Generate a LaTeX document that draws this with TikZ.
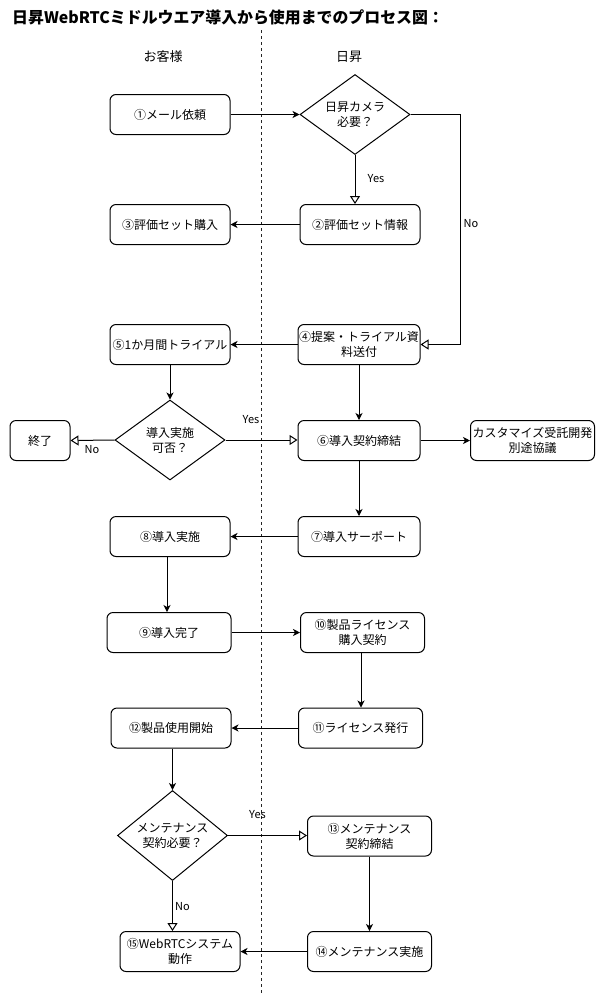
\documentclass[tikz,border=0pt]{standalone}
\usepackage{fontspec}
\setmainfont{Noto Sans CJK JP}
\usetikzlibrary{shapes.geometric,arrows.meta}
\begin{document}
\begin{tikzpicture}[x=1pt,y=-1pt,
  box/.style={draw, rounded corners=6pt, minimum height=40pt, inner sep=0pt, align=center, line width=1pt, font=\fontsize{12}{15}\selectfont},
  dec/.style={draw, diamond, inner sep=0pt, align=center, line width=1pt, font=\fontsize{12}{15}\selectfont},
  lbl/.style={font=\fontsize{11}{13}\selectfont, inner sep=0pt},
  lane/.style={font=\fontsize{13}{15}\selectfont, inner sep=0pt},
  flow/.style={line width=1pt, -{Stealth[length=7pt,width=7pt,inset=2pt]}},
  oflow/.style={line width=1pt, -{Triangle[open,length=8pt,width=10pt,fill=white]}},
]
\useasboundingbox (0,0) rectangle (596,994);
\fill[white] (0,0) rectangle (596,994);
% title
\node[anchor=west, inner sep=0pt, font=\fontsize{15.9}{18}\selectfont\bfseries] (title) at (12,17) {日昇WebRTCミドルウエア導入から使用までのプロセス図：};
% lane divider
\coordinate (dtop) at (261,30);
\coordinate (dbot) at (261,994);
\draw[black!85, line width=0.9pt, dash pattern=on 3pt off 3pt] (dtop) -- (dbot);
\node[lane] (lc) at (163,57) {お客様};
\node[lane] (ln) at (349,57) {日昇};
% nodes
\node[box, minimum width=120pt] (n1) at (170,114.5) {①メール依頼};
\node[dec, minimum width=110pt, minimum height=80pt, aspect=1.375] (d1) at (355,114.5) {日昇カメラ\\必要？};
\node[box, minimum width=120pt] (n2) at (360,224.5) {②評価セット情報};
\node[box, minimum width=120pt] (n3) at (170,224.5) {③評価セット購入};
\node[box, minimum width=122pt] (n4) at (359,344.5) {④提案・トライアル資\\料送付};
\node[box, minimum width=120pt] (n5) at (170,344.5) {⑤1か月間トライアル};
\node[dec, minimum width=110pt, minimum height=80pt, aspect=1.375] (d2) at (170,440) {導入実施\\可否？};
\node[box, minimum width=60pt] (end) at (40,440.5) {終了};
\node[box, minimum width=122pt] (n6) at (359,440.5) {⑥導入契約締結};
\node[box, minimum width=124pt] (cus) at (532.5,440.5) {カスタマイズ受託開発\\別途協議};
\node[box, minimum width=122pt] (n7) at (359,536.5) {⑦導入サーポート};
\node[box, minimum width=120pt] (n8) at (170,536.5) {⑧導入実施};
\node[box, minimum width=124pt] (n9) at (169,632.5) {⑨導入完了};
\node[box, minimum width=124pt] (n10) at (362.5,632.5) {⑩製品ライセンス\\購入契約};
\node[box, minimum width=124pt] (n11) at (360.5,728) {⑪ライセンス発行};
\node[box, minimum width=120pt] (n12) at (171,728) {⑫製品使用開始};
\node[dec, minimum width=110pt, minimum height=90pt, aspect=1.22] (d3) at (172.5,835.5) {メンテナンス\\契約必要？};
\node[box, minimum width=124pt] (n13) at (369.5,836) {⑬メンテナンス\\契約締結};
\node[box, minimum width=124pt] (n14) at (369.5,951.5) {⑭メンテナンス実施};
\node[box, minimum width=120pt] (n15) at (180,951.5) {⑮WebRTCシステム\\動作};
% connectors
\draw[flow] (n1.east) -- (d1.west);
\draw[oflow] (d1.south) -- (d1.south |- n2.north);
\node[lbl] (y1) at (376,179) {Yes};
\coordinate (nx) at (460,0);
\draw[oflow] (d1.east) -- (d1.east -| nx) |- (n4.east);
\node[lbl] (no1) at (471,224) {No};
\draw[flow] (n2.west) -- (n3.east);
\draw[flow] (n4.west) -- (n5.east);
\draw[flow] (n5.south) -- (d2.north);
\draw[oflow] (d2.west) -- (end.east);
\node[lbl] (no2) at (92,450) {No};
\draw[oflow] (d2.east) -- (n6.west |- d2.east);
\node[lbl] (y2) at (251,420) {Yes};
\draw[flow] (n4.south) -- (n6.north);
\draw[flow] (n6.east) -- (cus.west);
\draw[flow] (n6.south) -- (n7.north);
\draw[flow] (n7.west) -- (n8.east);
\draw[flow] ([xshift=-3pt]n8.south) -- ([xshift=-3pt]n8.south |- n9.north);
\draw[flow] (n9.east) -- (n10.west);
\draw[flow] ([xshift=-1.5pt]n10.south) -- ([xshift=-1.5pt]n10.south |- n11.north);
\draw[flow] (n11.west) -- (n12.east);
\draw[flow] (n12.south -| d3.north) -- (d3.north);
\draw[oflow] (d3.east) -- (n13.west |- d3.east);
\node[lbl] (y3) at (257.5,815) {Yes};
\draw[oflow] (d3.south) -- (d3.south |- n15.north);
\node[lbl] (no3) at (182.5,907) {No};
\draw[flow] (n13.south) -- (n14.north);
\draw[flow] (n14.west) -- (n15.east);
\end{tikzpicture}
\end{document}
